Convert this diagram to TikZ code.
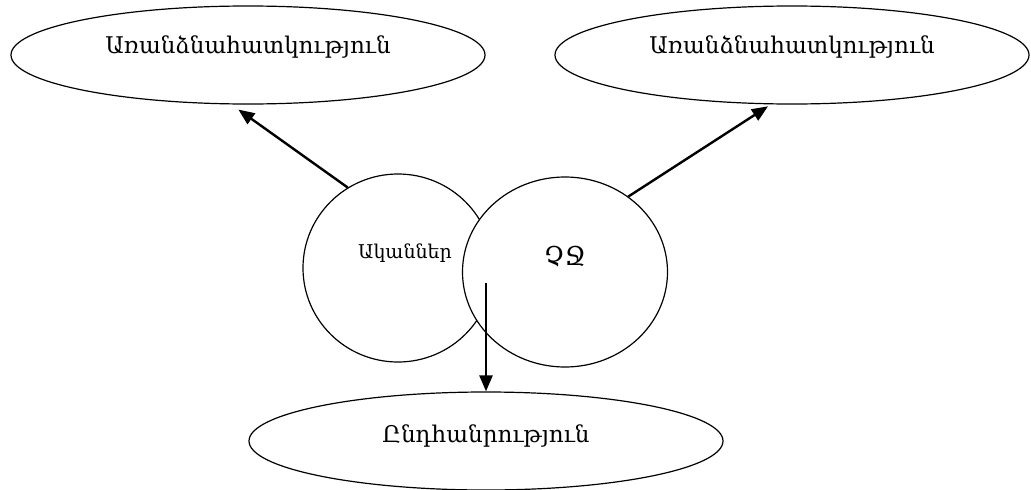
\documentclass[tikz,border=0pt]{standalone}
\usepackage{fontspec}
\setmainfont{DejaVu Serif}
\usetikzlibrary{shapes.geometric,arrows.meta}
\tikzset{
  oval/.style={draw,ellipse,line width=1.2pt,fill=white,minimum width=474pt,minimum height=98pt,inner sep=0pt},
  round/.style={draw,ellipse,line width=1.2pt,fill=white,inner sep=0pt},
  big/.style={font=\fontsize{23}{27}\selectfont},
  arr/.style={line width=2.4pt,-{Triangle[length=16pt,width=13pt]}}
}
\begin{document}
\begin{tikzpicture}[x=1pt,y=-1pt]
\useasboundingbox (0,0) rectangle (1031,490);
\node[oval] (tl) at (248,55) {};
\node[big] (tlt) at (248,47) {Առանձնահատկություն};
\node[oval] (tr) at (792,55) {};
\node[big] (trt) at (792,47) {Առանձնահատկություն};
\node[oval] (bt) at (486,441) {};
\node[big] (btt) at (486,436) {Ընդհանրություն};
\node[round,minimum width=190pt,minimum height=188pt] (lc) at (398,268) {};
\node[font=\fontsize{19}{22}\selectfont] (lct) at (405,253) {Ականներ};
\node[round,minimum width=205pt,minimum height=190pt] (rc) at (565,272) {};
\node[font=\fontsize{26}{30}\selectfont] (rct) at (565,256) {ՉՋ};
\coordinate (ds) at (486,283);
\draw[arr] (lc.122) -- ([yshift=-5pt]tl.259);
\draw[arr] (rc.50) -- ([yshift=-2pt]tr.244);
\draw[arr] (ds) -- (bt.north);
\end{tikzpicture}
\end{document}
